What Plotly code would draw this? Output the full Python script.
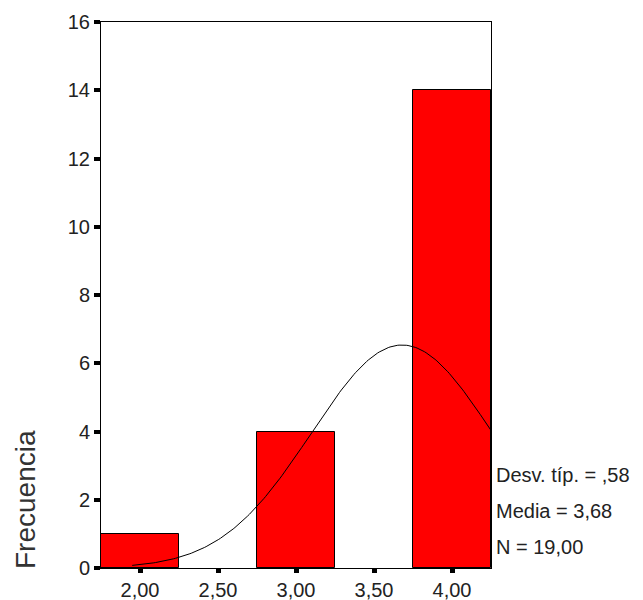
import numpy as np
import plotly.graph_objects as go

bin_centers = [2.0, 3.0, 4.0]
frequencies = [1, 4, 14]
bin_width = 0.5
x_tick_vals = [2.0, 2.5, 3.0, 3.5, 4.0]
x_tick_text = ["2,00", "2,50", "3,00", "3,50", "4,00"]
y_tick_vals = [0, 2, 4, 6, 8, 10, 12, 14, 16]
std_dev = 0.58
mean = 3.68
n_obs = 19
stats_lines = ["Desv. típ. = ,58", "Media = 3,68", "N = 19,00"]

# normal curve scaled to the histogram (from the reported statistics)
xc = np.linspace(1.95, 4.25, 200)
yc = n_obs * bin_width / (std_dev * np.sqrt(2 * np.pi)) * np.exp(-0.5 * ((xc - mean) / std_dev) ** 2)

fig = go.Figure()
fig.add_trace(go.Bar(x=bin_centers, y=frequencies, width=bin_width,
                     marker=dict(color="#FF0000", line=dict(color="black", width=1)),
                     showlegend=False, hoverinfo="skip"))
fig.add_trace(go.Scatter(x=xc, y=yc, mode="lines", line=dict(color="black", width=1),
                         showlegend=False, hoverinfo="skip"))

FAM = "Liberation Sans, Arial, sans-serif"
fig.update_layout(
    width=635, height=592,
    margin=dict(l=93, r=152, t=14, b=32),
    paper_bgcolor="white", plot_bgcolor="white",
    font=dict(family=FAM, size=20, color="#222222"), bargap=0,
    xaxis=dict(range=[1.75, 4.25], tickvals=x_tick_vals, ticktext=x_tick_text,
               automargin=False,
               showgrid=False, zeroline=False, showline=True, linecolor="black", linewidth=1,
               mirror=True, ticks="outside", ticklen=4, tickwidth=5, tickcolor="black",
               tickfont=dict(size=20, color="#222222", family=FAM)),
    yaxis=dict(range=[0, 16], tickvals=y_tick_vals, automargin=False,
               showgrid=False, zeroline=False, showline=True, linecolor="black", linewidth=1,
               mirror=True, ticks="outside", ticklen=6, tickwidth=4, tickcolor="black",
               tickfont=dict(size=20, color="#222222", family=FAM)),
)

fig.add_annotation(text="Frecuencia", textangle=-90, xref="paper", yref="paper",
                   x=-93/390, y=-3/546, xanchor="left", yanchor="bottom", showarrow=False,
                   font=dict(size=28, color="#333333", family=FAM))
for i, fy in enumerate([467, 503, 539]):
    fig.add_annotation(text=stats_lines[i], xref="paper", yref="paper", x=1.008, y=(560 - fy) / 546,
                       xanchor="left", yanchor="middle", showarrow=False,
                       font=dict(size=20, color="#222222", family=FAM))

fig.write_html("out.html")
